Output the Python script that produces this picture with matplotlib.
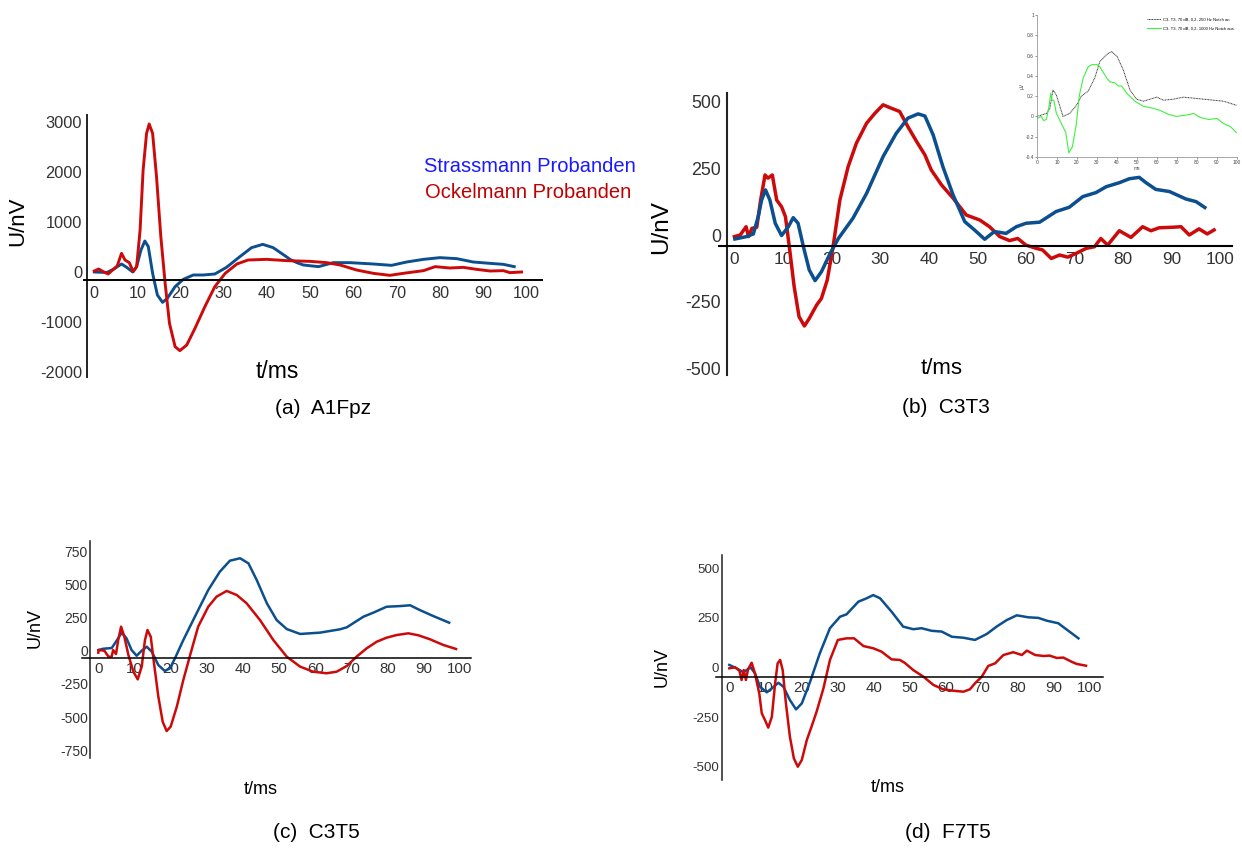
import matplotlib
matplotlib.use("Agg")
import matplotlib.pyplot as plt

W, H = 1242, 848
plt.rcParams["font.family"] = ["Liberation Sans", "DejaVu Sans"]
plt.rcParams["axes.unicode_minus"] = False

BLUE = "#0b4f8e"
RED = "#cc0a0a"
TICK = "#333333"

# ---- (a) A1Fpz ----
a_blue_t = [0, 2.9, 4.4, 6.3, 7.5, 8.9, 9.8, 10.8, 11.7, 12.5, 13.5, 14.6, 15.8, 16.9, 18.7,
            20.6, 22.9, 25.2, 27.9, 30.6, 33.7, 36.4, 39, 41.4, 44.1, 45.3, 46.9, 48.4, 51.9,
            55.3, 59.2, 64.6, 68.8, 72.3, 76.2, 80, 83.9, 87.7, 91.6, 94.7, 97.2]
a_blue_v = [0, -10, 53, 160, 93, 0, 107, 440, 620, 507, -27, -460, -607, -527, -293,
            -147, -60, -60, -40, 93, 307, 487, 553, 487, 327, 253, 187, 140, 107,
            187, 187, 160, 133, 200, 253, 287, 267, 200, 173, 153, 107]
a_red_t = [0, 1, 2, 3.2, 4.4, 5.3, 6.3, 7.1, 8.1, 9, 9.8, 10.6, 11.3, 12.1, 12.7, 13.5, 14.4,
           15.4, 16.4, 17.4, 18.7, 19.8, 21.4, 23.3, 25.6, 27.9, 30.3, 33, 35.6, 39.9, 44.5,
           49.9, 53.8, 56.9, 60.7, 64.6, 68.4, 71.5, 76.2, 78.9, 82.3, 85.4, 88.5, 91.6,
           94.7, 96.2, 98.9]
a_red_v = [20, 60, 10, -40, 53, 120, 373, 240, 187, 7, 107, 840, 2040, 2773, 2960, 2773, 1907,
           707, -227, -1027, -1493, -1573, -1460, -1127, -693, -293, -27, 160, 240, 253, 227,
           213, 187, 140, 40, -27, -67, -27, 27, 107, 80, 93, 53, 20,
           27, -13, 0]

# ---- (b) C3T3 ----
b_blue_t = [0.1, 2.5, 3.9, 4.9, 5.6, 6.4, 7.3, 8.4, 9.7, 11.1, 12.1, 13.1, 14.2, 15.4, 16.6,
            17.9, 19.7, 21.4, 24.4, 27.2, 30.6, 33.3, 35.7, 37.8, 39.2, 40.9, 42.9, 45, 47.4,
            49.4, 51.5, 53.5, 55.9, 58, 60, 62.8, 66.2, 68.9, 71.7, 74.4, 76.5, 79.2, 81.3,
            83.3, 84.7, 86.7, 89.5, 92.9, 95, 96.8]
b_blue_v = [-15, -6, 4, 69, 131, 169, 131, 44, -2, 31, 65, 44, -44, -131, -171,
            -138, -69, -13, 63, 156, 294, 381, 438, 454, 446, 375, 256, 150, 50,
            19, -16, 13, 6, 31, 44, 48, 88, 104, 144, 159, 181, 196, 211,
            216, 196, 171, 163, 135, 125, 103]
b_red_t = [0, 1.2, 2.4, 2.9, 3.6, 4.6, 5.4, 6.3, 6.9, 7.8, 8.7, 9.7, 10.5, 11.3, 12.3, 13.3,
           14.4, 15.4, 16.9, 17.9, 19.1, 20.3, 21.7, 23.4, 25.1, 27.2, 28.9, 30.6, 32.3, 34,
           35.7, 37.5, 39.2, 40.5, 42.6, 45, 47.7, 50.5, 52.5, 54.6, 56.6, 58.3, 60, 62.1,
           63.4, 65.2, 66.9, 68.6, 70.3, 72.4, 74.1, 75.4, 76.8, 79.2, 81.6, 84, 85.7, 87.4,
           90.1, 91.9, 93.6, 95.6, 97.3, 98.7]
b_red_v = [-6, 0, 31, -6, 25, 29, 131, 225, 213, 225, 131, 106, 69, -44, -194, -306,
           -341, -313, -263, -238, -169, -44, 131, 256, 344, 419, 456, 488, 475, 463,
           406, 350, 300, 244, 188, 138, 75, 56, 31, -6, -21, -13, -38, -50,
           -56, -88, -75, -83, -69, -50, -44, -13, -38, 16, -9, 31, 16, 27,
           29, 31, 0, 23, 4, 19]

# ---- (c) C3T5 ----
c_blue_t = [0, 1.4, 3.7, 4.6, 6.5, 7.8, 9.2, 10.6, 12, 13.4, 14.8, 16.6, 18.4, 19.8, 21.2,
            23.5, 26.7, 30.4, 33.6, 36.4, 39.2, 41.5, 43.8, 46.6, 49.3, 52.1, 55.8, 61.3,
            66.8, 68.7, 73.3, 76, 79.7, 83.4, 86.2, 88.9, 92.6, 97]
c_blue_v = [5, 15, 20, 56, 136, 93, 5, -38, 0, 30, -8, -108, -153, -133, -57,
            80, 256, 457, 595, 678, 696, 658, 532, 357, 231, 163, 126, 136,
            161, 176, 256, 286, 331, 336, 342, 306, 261, 211]
c_red_t = [0, 0.1, 1.7, 2.8, 3.7, 4.1, 4.9, 5.5, 6.3, 7.2, 8.3, 9.7, 10.9, 12, 12.9, 13.6,
           14.5, 15.4, 16.6, 17.8, 18.9, 20, 21.7, 23.5, 25.4, 27.6, 30.4, 32.7, 35.5, 38.3,
           41, 44.7, 48.4, 52.1, 55.8, 59.4, 63.1, 65.9, 68.7, 71.4, 74.2, 77, 79.7, 82.5,
           85.7, 88.5, 91.7, 95.4, 98.9]
c_red_v = [-15, 5, 0, -45, -45, 5, -25, 80, 181, 105, -30, -158, -216, -120, 80, 156,
           105, -95, -346, -535, -605, -572, -422, -221, -32, 181, 331, 407, 450, 419,
           357, 231, 80, -45, -120, -158, -170, -158, -115, -45, 18, 68, 98, 118,
           131, 116, 86, 43, 13]

# ---- (d) F7T5 ----
d_blue_t = [0, 2, 3.9, 4.8, 5.9, 7.1, 8.5, 10.4, 11.8, 13.6, 15, 16.8, 18.5, 20.1, 22.4,
            25.1, 27.9, 30.7, 32.5, 35.8, 38.1, 39.9, 41.8, 45, 48.2, 51, 53.3, 56.1, 58.9,
            61.7, 64.9, 68.1, 71.4, 74.1, 76.9, 79.7, 82.9, 85.7, 88, 91.2, 94, 96.8]
d_blue_v = [13, -4, -24, -13, 1, -29, -97, -125, -105, -77, -97, -164, -211, -181, -72,
            72, 198, 256, 268, 332, 349, 365, 349, 281, 206, 193, 198, 185, 181,
            155, 150, 139, 169, 206, 239, 263, 253, 250, 236, 223, 185, 147]
d_red_t = [0, 1.6, 2.8, 3.4, 4, 4.6, 5.2, 6.2, 7.1, 8.3, 9, 9.9, 10.8, 11.8, 12.7, 13.4,
           14.1, 14.8, 15.7, 16.8, 17.9, 19, 20.1, 21.5, 22.8, 24.2, 26.1, 27.9, 30.1, 32.5,
           34.6, 37.2, 39.9, 42.2, 45, 47.3, 48.6, 51, 53.8, 56.6, 59.3, 62.1, 64.9, 66.7,
           68.1, 70, 71.8, 73.7, 76, 78.7, 81.1, 82.5, 84.8, 87.1, 88.8, 90.8, 92.6, 94.9,
           96.3, 98.9]
d_red_v = [-4, 1, -16, -63, -13, -63, -9, 24, -29, -130, -231, -265, -303, -248, -80, 21,
           38, -13, -181, -349, -458, -500, -466, -365, -298, -223, -105, 38, 139, 147,
           147, 108, 97, 80, 41, 38, 24, -13, -46, -88, -110, -117, -122, -110,
           -80, -46, 8, 21, 63, 77, 63, 85, 63, 58, 60, 48, 50, 29,
           18, 9]

# ---- inset (C3-T3 reference recording) ----
ins_black_t = [0, 4.7, 6.4, 8, 9.7, 13, 16.4, 19.7, 22.2, 25.6, 28.9, 31.4, 34.8, 37.3, 40.1,
               43.1, 46.5, 49.8, 53.2, 56.5, 59.9, 63.2, 68.2, 73.2, 78.3, 83.3, 88.3, 93.3, 99.7]
ins_black_v = [0, 0.03, 0.08, 0.26, 0.21, 0, 0.03, 0.11, 0.2, 0.25, 0.38, 0.54, 0.61, 0.64, 0.59,
               0.46, 0.26, 0.17, 0.15, 0.17, 0.19, 0.16, 0.17, 0.19, 0.18, 0.17, 0.16, 0.15, 0.11]
ins_green_t = [0, 2.2, 3.3, 4.7, 6, 6.9, 7.5, 8.4, 9.7, 12.2, 14.4, 15.9, 17.7, 19.7, 21.1,
               23.1, 25.6, 27.3, 30.1, 31.4, 34.8, 36.5, 39, 40.6, 42.3, 44.8, 49, 53.2, 58.2,
               61.5, 65.7, 69.9, 73.2, 76.6, 78.3, 81.6, 85.8, 90, 93.3, 96.7, 99.7]
ins_green_v = [-0.02, 0, -0.04, -0.03, 0.1, 0.23, 0.16, 0.16, 0.03, -0.07, -0.16, -0.36, -0.3,
               -0.07, 0.2, 0.38, 0.49, 0.51, 0.51, 0.49, 0.38, 0.34, 0.33, 0.3, 0.3, 0.23,
               0.15, 0.1, 0.08, 0.06, 0.02, 0, 0.01, 0.02, 0.03, -0.01, -0.03, -0.02, -0.07,
               -0.1, -0.16]

x_ticks = list(range(0, 101, 10))

fig = plt.figure(figsize=(W / 100, H / 100), dpi=100)


def ftext(x, y, s, **kw):
    # place text by reference pixel position
    kw.setdefault("ha", "center")
    kw.setdefault("va", "center")
    fig.text(x / W, 1 - y / H, s, **kw)


def panel(px0, sx, py0, sy, xext, yext, vline, hline, lw_axis=1.4):
    """Axes whose data maps onto the reference pixels: px0/py0 = pixel of (0, 0),
    sx/sy = pixels per unit, xext/yext = extent of the axis lines."""
    xl, xr = xext
    yt, yb = yext
    ax = fig.add_axes([xl / W, 1 - yb / H, (xr - xl) / W, (yb - yt) / H])
    ax.set_xlim((xl - px0) / sx, (xr - px0) / sx)
    ax.set_ylim((py0 - yb) / sy, (py0 - yt) / sy)
    ax.patch.set_visible(False)
    for s in ("top", "right"):
        ax.spines[s].set_visible(False)
    ax.spines["left"].set_position(("data", (vline - px0) / sx))
    ax.spines["bottom"].set_position(("data", (py0 - hline) / sy))
    ax.spines["left"].set_linewidth(lw_axis)
    ax.spines["bottom"].set_linewidth(lw_axis)
    ax.spines["left"].set_color("#222222")
    ax.tick_params(length=0, colors=TICK)
    return ax


def setup_ticks(ax, yticks, xsize, ysize, xpad, ypad):
    ax.set_xticks(x_ticks)
    ax.set_xticklabels([str(t) for t in x_ticks], fontsize=xsize, color=TICK)
    ax.set_yticks(yticks)
    ax.set_yticklabels([str(t) for t in yticks], fontsize=ysize, color=TICK)
    ax.tick_params(axis="x", pad=xpad)
    ax.tick_params(axis="y", pad=ypad)


# (a)
ax = panel(94.3, 4.32, 272, 0.05, (84, 542), (115, 377), 87, 279.5)
ax.plot(a_blue_t, a_blue_v, color=BLUE, lw=2.1, solid_joinstyle="round")
ax.plot(a_red_t, a_red_v, color=RED, lw=2.1, solid_joinstyle="round")
ax.plot(a_blue_t, a_blue_v, color=BLUE, lw=2.1, alpha=0.0)
setup_ticks(ax, [3000, 2000, 1000, 0, -1000, -2000], 11.6, 11.8, 5.0, 3.5)
ftext(18, 221, "U/nV", fontsize=16, rotation=90)
ftext(277, 371, "t/ms", fontsize=16.5)
ftext(323, 408, "(a)  A1Fpz", fontsize=15)
ftext(424, 166, "Strassmann Probanden", fontsize=14.5, color="#1a1aff", ha="left")
ftext(425, 193, "Ockelmann Probanden", fontsize=14.5, color="#c00000", ha="left")

# (b)
ax = panel(734.4, 4.86, 235, 66.7 / 250, (718.5, 1232), (93, 375), 726.5, 246, 1.5)
ax.plot(b_red_t, b_red_v, color=RED, lw=2.5, solid_joinstyle="round")
ax.plot(b_blue_t, b_blue_v, color=BLUE, lw=2.5, solid_joinstyle="round")
setup_ticks(ax, [500, 250, 0, -250, -500], 12.4, 12.9, 4.3, 4.0)
ftext(661, 227, "U/nV", fontsize=17.5, rotation=90)
ftext(942, 368, "t/ms", fontsize=16)
ftext(946, 407, "(b)  C3T3", fontsize=15)

# (c)
ax = panel(98.3, 3.617, 650.7, 33.2 / 250, (82, 471), (541, 758), 90, 658.3, 1.1)
ax.plot(c_blue_t, c_blue_v, color=BLUE, lw=1.8, solid_joinstyle="round")
ax.plot(c_red_t, c_red_v, color=RED, lw=1.8, solid_joinstyle="round")
setup_ticks(ax, [750, 500, 250, 0, -250, -500, -750], 10.8, 10, 3.0, 1.5)
ftext(35, 628, "U/nV", fontsize=13, rotation=90)
ftext(261, 790, "t/ms", fontsize=13)
ftext(316, 832, "(c)  C3T5", fontsize=15)

# (d)
ax = panel(729.3, 3.607, 667.5, 49.6 / 250, (716, 1103), (555, 780), 721.7, 677.3, 1.1)
ax.plot(d_blue_t, d_blue_v, color=BLUE, lw=1.8, solid_joinstyle="round")
ax.plot(d_red_t, d_red_v, color=RED, lw=1.8, solid_joinstyle="round")
setup_ticks(ax, [500, 250, 0, -250, -500], 10.8, 9.6, 3.0, 1.8)
ftext(662, 667, "U/nV", fontsize=13, rotation=90)
ftext(888, 788, "t/ms", fontsize=13)
ftext(948, 832, "(d)  F7T5", fontsize=15)

# inset in the top right corner
ins = fig.add_axes([1037 / W, 1 - 157 / H, 200 / W, 142 / H])
ins.patch.set_visible(False)
ins.set_xlim(0, 100)
ins.set_ylim(-0.4, 1)
for s in ("top", "right"):
    ins.spines[s].set_visible(False)
for s in ("left", "bottom"):
    ins.spines[s].set_color("#999999")
    ins.spines[s].set_linewidth(0.6)
ins.plot(ins_black_t, ins_black_v, color="#333333", lw=0.7, ls=(0, (1, 0.6)),
         label="C3- T3, 70 dB, 0,2- 250 Hz Notch an")
ins.plot(ins_green_t, ins_green_v, color="#3ff03f", lw=0.8,
         label="C3- T3, 70 dB, 0,2- 1000 Hz Notch aus")
ins.set_xticks(x_ticks)
ins.set_yticks([-0.4, -0.2, 0, 0.2, 0.4, 0.6, 0.8, 1])
ins.set_yticklabels(["-0.4", "-0.2", "0", "0.2", "0.4", "0.6", "0.8", "1"])
ins.tick_params(labelsize=3.5, length=1.2, width=0.4, pad=1, colors="#444444")
ins.set_xlabel("ms", fontsize=3.5, labelpad=0.5, color="#444444")
ins.set_ylabel("µV", fontsize=3.5, labelpad=0.5, color="#444444")
ins.legend(loc="upper right", fontsize=3, frameon=False, handlelength=3.5,
           handletextpad=0.5, borderaxespad=0.3, labelspacing=1.2)

fig.savefig("out.png", dpi=100)
